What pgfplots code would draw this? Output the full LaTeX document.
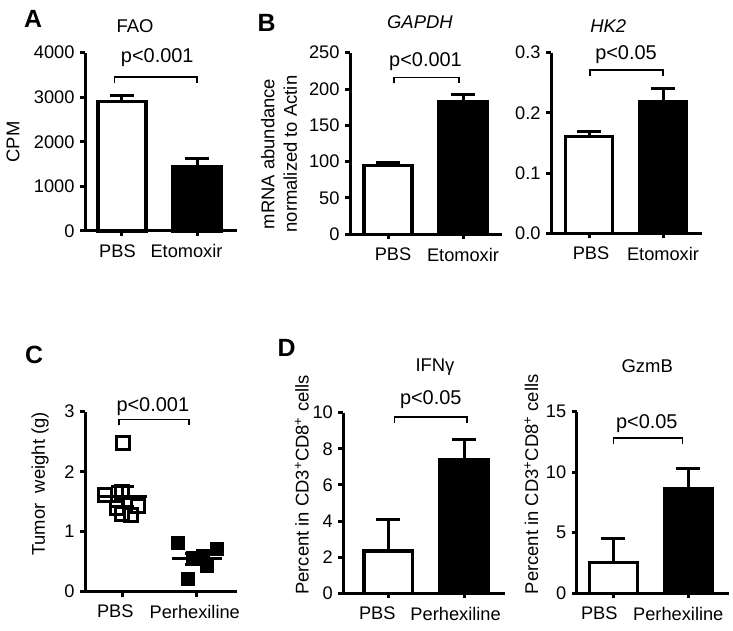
\documentclass[border=0pt]{standalone}
\usepackage{pgfplots}
\pgfplotsset{compat=1.18}
\usepackage{fontspec}
\setmainfont{Liberation Sans}
\begin{document}
\begin{tikzpicture}[x=1bp,y=1bp]
\useasboundingbox (0,0) rectangle (733,631);
\tikzset{
  brk/.style={line width=1.6bp, black},
  ptext/.style={font=\fontsize{20}{24}\selectfont},
}
\pgfplotsset{
  prism/.style={
    scale only axis, anchor=south west,
    axis x line*=bottom, axis y line*=left,
    axis line style={line width=3bp,-},
    tick style={line width=3bp, black},
    major tick length=5bp, tick align=outside,
    xtick={0,1}, ymin=0, clip=false,
    tick label style={font=\fontsize{18.3}{22}\selectfont},
    label style={font=\fontsize{18.5}{22.5}\selectfont},
    title style={font=\fontsize{18.5}{22}\selectfont, anchor=center},
    xticklabel style={yshift=-5bp},
    yticklabel style={xshift=-2bp},
    /pgf/number format/assume math mode=true,
    /pgf/number format/1000 sep={},
    scaled y ticks=false,
    ylabel style={anchor=center},
  },
  pbar/.style={ybar, bar width=0.64, bar shift=0pt, draw=black, line width=3.5bp, fill=#1,
    error bars/.cd, y dir=plus, y explicit,
    error bar style={line width=3bp, black},
    error mark options={rotate=90, mark size=12bp, line width=3bp, black}},
}
% Panel letters
\node[font=\bfseries\fontsize{25}{28}\selectfont] at (33,612.5) {A};
\node[font=\bfseries\fontsize{25}{28}\selectfont] at (266.7,608.5) {B};
\node[font=\bfseries\fontsize{25}{28}\selectfont] at (34,276) {C};
\node[font=\bfseries\fontsize{25}{28}\selectfont] at (286.7,283.5) {D};

% A: FAO
\begin{axis}[prism, at={(85bp,400bp)}, width=152bp, height=178.3bp,
  xmin=-0.493, xmax=1.533, ymax=4000, ytick={0,1000,2000,3000,4000},
  xticklabels={PBS\hspace*{9bp},Etomoxir\hspace*{21bp}}, ylabel={CPM},
  ylabel style={at={(axis description cs:-0.474,0.5)}},
  title={FAO}, title style={at={(axis description cs:0.329,1.116)}}]
\addplot[pbar=white] coordinates {(0,2900) +- (0,135)};
\addplot[pbar=black] coordinates {(1,1440) +- (0,190)};
\draw[brk] ([yshift=-6bp]axis cs:-0.1,3448) -- (axis cs:-0.1,3448) -- (axis cs:1,3448) -- ([yshift=-6bp]axis cs:1,3448);
\node[ptext] at (axis cs:0.47,3881) {p<0.001};
\end{axis}

% B: GAPDH
\begin{axis}[prism, at={(350bp,396.7bp)}, width=152bp, height=181.6bp,
  xmin=-0.507, xmax=1.52, ymax=250, ytick={0,50,100,150,200,250},
  xticklabels={\hspace*{10bp}PBS,Etomoxir}, ylabel={mRNA abundance\\normalized to Actin},
  ylabel style={at={(axis description cs:-0.467,0.442)}, align=center},
  title={\itshape GAPDH}, title style={at={(axis description cs:0.46,1.136)}}]
\addplot[pbar=white] coordinates {(0,95) +- (0,4)};
\addplot[pbar=black] coordinates {(1,182) +- (0,10)};
\draw[brk] ([yshift=-6bp]axis cs:0.08,216) -- (axis cs:0.08,216) -- (axis cs:0.95,216) -- ([yshift=-6bp]axis cs:0.95,216);
\node[ptext] at (axis cs:0.5,237.6) {p<0.001};
\end{axis}

% B: HK2
\begin{axis}[prism, at={(551bp,397.7bp)}, width=150.7bp, height=180.6bp,
  xmin=-0.514, xmax=1.523, ymax=0.3, ytick={0,0.1,0.2,0.3},
  yticklabel style={/pgf/number format/.cd, fixed, fixed zerofill, precision=1},
  xticklabels={\hspace*{4bp}PBS,Etomoxir},
  title={\itshape HK2}, title style={at={(axis description cs:0.38,1.116)}}]
\addplot[pbar=white] coordinates {(0,0.161) +- (0,0.008)};
\addplot[pbar=black] coordinates {(1,0.218) +- (0,0.023)};
\draw[brk] ([yshift=-6bp]axis cs:0.014,0.2708) -- (axis cs:0.014,0.2708) -- (axis cs:0.996,0.2708) -- ([yshift=-6bp]axis cs:0.996,0.2708);
\node[ptext] at (axis cs:0.5,0.296) {p<0.05};
\end{axis}

% C: tumor weight
\begin{axis}[prism, at={(85bp,39.3bp)}, width=152bp, height=180bp,
  xmin=-0.5, xmax=1.54, ymax=3, ytick={0,1,2,3},
  xticklabels={PBS\hspace*{14bp},Perhexiline\hspace*{4bp}}, ylabel={Tumor\ \ weight (g)},
  ylabel style={at={(axis description cs:-0.296,0.598)}}]
\addplot[only marks, mark=square, mark size=6.5bp, line width=3.2bp, black] coordinates {
  (0.005,2.48) (-0.23,1.61) (0.0,1.66) (0.21,1.43) (-0.07,1.40) (0.0,1.30) (0.12,1.28)};
\addplot[only marks, mark=square*, mark size=6.5bp, line width=1pt, black, fill=black] coordinates {
  (0.753,0.81) (1.269,0.71) (0.887,0.21) (1.134,0.42) (0.95,0.56) (1.08,0.60)};
\addplot[only marks, mark=-, mark size=25bp, line width=3bp, black,
  error bars/.cd, y dir=both, y explicit, error bar style={line width=3bp, black},
  error mark options={rotate=90, mark size=11.5bp, line width=3bp, black}] coordinates {
  (0,1.59) +- (0,0.17) (1,0.55) +- (0,0.09)};
\draw[brk] ([yshift=-6bp]axis cs:-0.045,2.873) -- (axis cs:-0.045,2.873) -- (axis cs:0.895,2.873) -- ([yshift=-6bp]axis cs:0.895,2.873);
\node[ptext] at (axis cs:0.41,3.08) {p<0.001};
\end{axis}

% D: IFNg
\begin{axis}[prism, at={(343.3bp,37.7bp)}, width=161.7bp, height=180.6bp,
  xmin=-0.594, xmax=1.54, ymax=10, ytick={0,2,4,6,8,10},
  xticklabels={PBS\hspace*{22bp},Perhexiline\hspace*{17bp}}, ylabel={Percent in CD3\textsuperscript{+}CD8\textsuperscript{+} cells},
  ylabel style={at={(axis description cs:-0.257,0.6)}},
  title={IFNγ}, title style={at={(axis description cs:0.567,1.218)}}]
\addplot[pbar=white] coordinates {(0,2.34) +- (0,1.76)};
\addplot[pbar=black] coordinates {(1,7.38) +- (0,1.16)};
\draw[brk] ([yshift=-6bp]axis cs:0.08,9.75) -- (axis cs:0.08,9.75) -- (axis cs:1.04,9.75) -- ([yshift=-6bp]axis cs:1.04,9.75);
\node[ptext] at (axis cs:0.56,10.7) {p<0.05};
\end{axis}

% D: GzmB
\begin{axis}[prism, at={(576.7bp,37.7bp)}, width=152.3bp, height=181.6bp,
  xmin=-0.488, xmax=1.543, ymax=15, ytick={0,5,10,15},
  xticklabels={PBS\hspace*{28bp},Perhexiline\hspace*{20bp}}, ylabel={Percent in CD3\textsuperscript{+}CD8\textsuperscript{+} cells},
  ylabel style={at={(axis description cs:-0.297,0.6)}},
  title={GzmB}, title style={at={(axis description cs:0.463,1.218)}}]
\addplot[pbar=white] coordinates {(0,2.56) +- (0,1.93)};
\addplot[pbar=black] coordinates {(1,8.67) +- (0,1.65)};
\draw[brk] ([yshift=-6bp]axis cs:0,12.85) -- (axis cs:0,12.85) -- (axis cs:0.925,12.85) -- ([yshift=-6bp]axis cs:0.925,12.85);
\node[ptext] at (axis cs:0.447,14.0) {p<0.05};
\end{axis}
\end{tikzpicture}
\end{document}
